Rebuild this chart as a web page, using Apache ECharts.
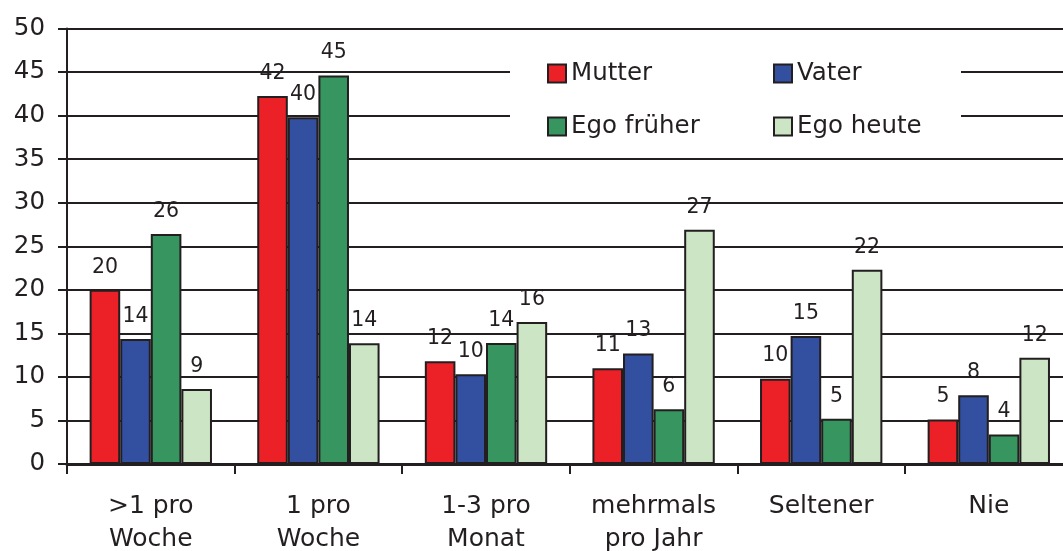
<!DOCTYPE html>
<html>
<head>
<meta charset="utf-8">
<script src="https://cdn.jsdelivr.net/npm/echarts@6/dist/echarts.min.js"></script>
<style>
html,body{margin:0;padding:0;background:#fff;}
#chart{width:1063px;height:551px;}
</style>
</head>
<body>
<div id="chart"></div>
<script>
const categories = ['>1 pro\nWoche', '1 pro\nWoche', '1-3 pro\nMonat', 'mehrmals\npro Jahr', 'Seltener', 'Nie'];
const seriesNames = ['Mutter', 'Vater', 'Ego früher', 'Ego heute'];
const mutter    = [20.0, 42.25, 11.8, 11.0, 9.8, 5.1];
const vater     = [14.35, 39.8, 10.3, 12.7, 14.7, 7.9];
const egoFrueher = [26.4, 44.6, 13.9, 6.3, 5.2, 3.4];
const egoHeute  = [8.6, 13.85, 16.3, 26.9, 22.3, 12.2];
const labelsMutter = ['20', '42', '12', '11', '10', '5'];
const labelsVater = ['14', '40', '10', '13', '15', '8'];
const labelsEgoFrueher = ['26', '45', '14', '6', '5', '4'];
const labelsEgoHeute = ['9', '14', '16', '27', '22', '12'];
const yTicks = [0, 50, 5];

const colors = ['#ec2127', '#334fa0', '#379560', '#cce5c4'];
const dark = '#231f20';
const font = '"DejaVu Sans", Verdana, sans-serif';
const values = [mutter, vater, egoFrueher, egoHeute];
const labels = [labelsMutter, labelsVater, labelsEgoFrueher, labelsEgoHeute];

const chart = echarts.init(document.getElementById('chart'));
chart.setOption({
  animation: false,
  backgroundColor: '#fff',
  textStyle: { fontFamily: font, color: dark },
  grid: { left: 67, top: 28.5, width: 1005.6, height: 435.5, containLabel: false, outerBoundsMode: 'none' },
  xAxis: {
    type: 'category',
    data: categories,
    boundaryGap: true,
    axisLine: { show: true, lineStyle: { color: dark, width: 3 } },
    axisTick: { show: true, alignWithLabel: false, length: 10, lineStyle: { color: dark, width: 2 } },
    axisLabel: { fontFamily: font, fontSize: 25, lineHeight: 33, color: dark, margin: 26, interval: 0 },
    splitLine: { show: false }
  },
  yAxis: {
    type: 'value',
    min: yTicks[0], max: yTicks[1], interval: yTicks[2],
    axisLine: { show: true, lineStyle: { color: dark, width: 2 } },
    axisTick: { show: true, length: 9, lineStyle: { color: dark, width: 2 } },
    axisLabel: { fontFamily: font, fontSize: 24.5, color: dark, margin: 22 },
    splitLine: { show: true, lineStyle: { color: dark, width: 2 } }
  },
  legend: [
    {
      data: [seriesNames[0], seriesNames[2]],
      orient: 'vertical', left: 547, top: 61, padding: 0,
      itemWidth: 18, itemHeight: 18, itemGap: 28, icon: 'rect',
      textStyle: { fontFamily: font, fontSize: 24.5, color: dark },
      itemStyle: { borderColor: dark, borderWidth: 2 }, z: 5
    },
    {
      data: [seriesNames[1], seriesNames[3]],
      orient: 'vertical', left: 773, top: 61, padding: 0,
      itemWidth: 18, itemHeight: 18, itemGap: 28, icon: 'rect',
      textStyle: { fontFamily: font, fontSize: 24.5, color: dark },
      itemStyle: { borderColor: dark, borderWidth: 2 }, z: 5
    }
  ],
  graphic: [{
    type: 'rect', shape: { x: 510, y: 45, width: 451, height: 105 },
    style: { fill: '#fff' }, z: 1
  }],
  series: values.map((arr, i) => ({
    name: seriesNames[i],
    type: 'bar',
    data: arr,
    barGap: '0%',
    barCategoryGap: '27%',
    z: 3,
    itemStyle: { color: colors[i], borderColor: dark, borderWidth: 2 },
    label: {
      show: true, position: 'top', distance: 12,
      fontFamily: font, fontSize: 20.5, color: dark,
      formatter: p => labels[i][p.dataIndex]
    }
  }))
});
</script>
</body>
</html>
